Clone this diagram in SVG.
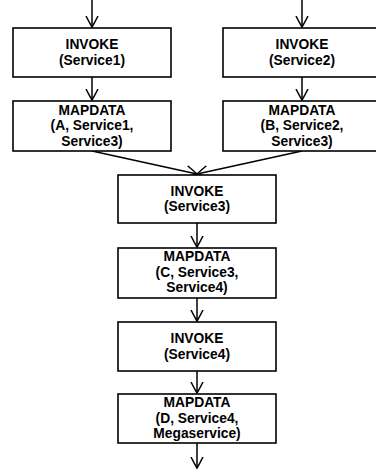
<svg xmlns="http://www.w3.org/2000/svg" width="376" height="469" viewBox="0 0 376 469">
<style>
.box{fill:#fff;stroke:#000;stroke-width:1.6}
.t{font-family:"Liberation Sans",Arial,sans-serif;font-weight:bold;font-size:13.8px;fill:#000;text-anchor:middle}
.c{fill:none;stroke:#000;stroke-width:1.5}
</style>
<defs>
<marker id="arr" viewBox="0 0 12 14" refX="11" refY="7" markerWidth="12" markerHeight="14" markerUnits="userSpaceOnUse" orient="auto">
<path d="M0,1 Q6,4 11,7 Q6,10 0,13" fill="none" stroke="#000" stroke-width="1.5"/>
</marker>
</defs>
<rect width="376" height="469" fill="#fff"/>
<g id="connectors">
<line class="c" x1="92" y1="0" x2="92" y2="27" marker-end="url(#arr)"/>
<line class="c" x1="302" y1="0" x2="302" y2="27" marker-end="url(#arr)"/>
<line class="c" x1="92" y1="77" x2="92" y2="100" marker-end="url(#arr)"/>
<line class="c" x1="302" y1="77" x2="302" y2="100" marker-end="url(#arr)"/>
<line class="c" x1="92" y1="151" x2="197" y2="174" marker-end="url(#arr)"/>
<line class="c" x1="302" y1="151" x2="197" y2="174" marker-end="url(#arr)"/>
<line class="c" x1="197" y1="223" x2="197" y2="247" marker-end="url(#arr)"/>
<line class="c" x1="197" y1="298" x2="197" y2="321" marker-end="url(#arr)"/>
<line class="c" x1="197" y1="371" x2="197" y2="393" marker-end="url(#arr)"/>
<line class="c" x1="197" y1="443" x2="197" y2="468" marker-end="url(#arr)"/>
</g>
<g id="invoke1">
<rect class="box" x="13" y="28" width="158" height="49"/>
<text class="t" x="92" y="49">INVOKE</text>
<text class="t" x="92" y="64.5">(Service1)</text>
</g>
<g id="invoke2">
<rect class="box" x="223" y="28" width="158" height="49"/>
<text class="t" x="302" y="49">INVOKE</text>
<text class="t" x="302" y="64.5">(Service2)</text>
</g>
<g id="mapdataA">
<rect class="box" x="13" y="101" width="158" height="50"/>
<text class="t" x="92" y="114.5">MAPDATA</text>
<text class="t" x="92" y="130">(A, Service1,</text>
<text class="t" x="92" y="145.5">Service3)</text>
</g>
<g id="mapdataB">
<rect class="box" x="223" y="101" width="158" height="50"/>
<text class="t" x="302" y="114.5">MAPDATA</text>
<text class="t" x="302" y="130">(B, Service2,</text>
<text class="t" x="302" y="145.5">Service3)</text>
</g>
<g id="invoke3">
<rect class="box" x="118" y="175" width="158" height="48"/>
<text class="t" x="197" y="195.5">INVOKE</text>
<text class="t" x="197" y="211">(Service3)</text>
</g>
<g id="mapdataC">
<rect class="box" x="118" y="248" width="158" height="50"/>
<text class="t" x="197" y="261">MAPDATA</text>
<text class="t" x="197" y="276.5">(C, Service3,</text>
<text class="t" x="197" y="292">Service4)</text>
</g>
<g id="invoke4">
<rect class="box" x="118" y="322" width="158" height="49"/>
<text class="t" x="197" y="343">INVOKE</text>
<text class="t" x="197" y="358.5">(Service4)</text>
</g>
<g id="mapdataD">
<rect class="box" x="118" y="394" width="158" height="49"/>
<text class="t" x="197" y="407">MAPDATA</text>
<text class="t" x="197" y="422.5">(D, Service4,</text>
<text class="t" x="197" y="438">Megaservice)</text>
</g>
</svg>
